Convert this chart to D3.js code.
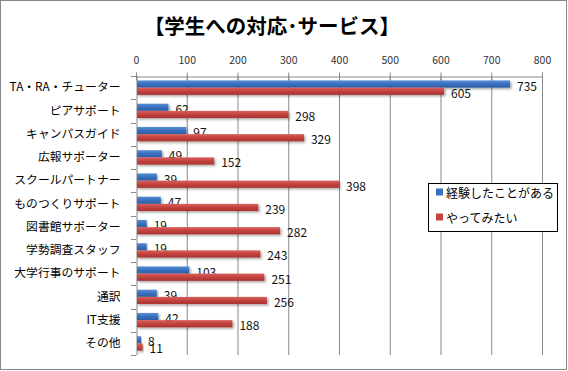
<!DOCTYPE html>
<html><head><meta charset="utf-8">
<script src="https://cdn.jsdelivr.net/npm/d3@7"></script>
<style>body{margin:0;background:#fff}svg{display:block}</style>
</head><body>
<script>
const title = "【学生への対応･サービス】";
const categories = ["TA・RA・チューター","ピアサポート","キャンパスガイド","広報サポーター","スクールパートナー","ものつくりサポート","図書館サポーター","学勢調査スタッフ","大学行事のサポート","通訳","IT支援","その他"];
const experienced = [735,62,97,49,39,47,19,19,103,39,42,8];
const wantToTry = [605,298,329,152,398,239,282,243,251,256,188,11];
const seriesNames = ["経験したことがある","やってみたい"];
const xTicks = [0,100,200,300,400,500,600,700,800];

const W=568,H=371;
const svg=d3.select("body").append("svg").attr("width",W).attr("height",H);
const font="'Noto Sans CJK JP','Noto Sans',sans-serif";
const defs=svg.append("defs");
function grad(id,c1,c2,c3){
  const g=defs.append("linearGradient").attr("id",id).attr("x1",0).attr("y1",0).attr("x2",0).attr("y2",1);
  g.append("stop").attr("offset","0%").attr("stop-color",c1);
  g.append("stop").attr("offset","45%").attr("stop-color",c2);
  g.append("stop").attr("offset","100%").attr("stop-color",c3);
}
grad("gb","#5b8fd6","#3a72c0","#2c5ea6");
grad("gr","#d9605c","#c54440","#a8322f");
const f=defs.append("filter").attr("id","sh").attr("x","-5%").attr("y","-50%").attr("width","115%").attr("height","250%");
f.append("feDropShadow").attr("dx",1.5).attr("dy",1.5).attr("stdDeviation",1).attr("flood-color","#000").attr("flood-opacity",0.35);

svg.append("rect").attr("x",0.5).attr("y",0.5).attr("width",566).attr("height",369).attr("fill","#fff").attr("stroke","#888");

svg.append("text").attr("x",272).attr("y",25).attr("text-anchor","middle").attr("dominant-baseline","central")
  .attr("font-family",font).attr("font-weight","bold").attr("font-size",20.5).attr("fill","#000").text(title);

const x=d3.scaleLinear().domain([0,800]).range([136,542]);
const y=d3.scaleBand().domain(categories).range([76,355]);

// gridlines
svg.append("g").selectAll("line").data(xTicks.slice(1)).join("line")
  .attr("x1",d=>x(d)+0.5).attr("x2",d=>x(d)+0.5).attr("y1",76).attr("y2",355)
  .attr("stroke","#888").attr("stroke-width",1);

// top axis
const ax=svg.append("g").attr("transform","translate(0,76.5)")
  .call(d3.axisTop(x).tickValues(xTicks).tickSize(4).tickPadding(9));
ax.select(".domain").attr("stroke","#888");
ax.selectAll(".tick line").attr("stroke","#888").attr("y2",-4).attr("y1",4);
ax.selectAll("text").attr("font-family",font).attr("font-size",10.5).attr("fill","#333");

// left axis
const ay=svg.append("g").attr("transform","translate(136.5,0)")
  .call(d3.axisLeft(y).tickSize(0).tickPadding(16));
ay.select(".domain").attr("stroke","#888");
ay.selectAll("text").attr("font-family",font).attr("font-size",11.8).attr("fill","#000");
svg.append("g").selectAll("line").data(d3.range(categories.length+1)).join("line")
  .attr("x1",131).attr("x2",136).attr("y1",i=>Math.round(76+i*y.step())+0.5).attr("y2",i=>Math.round(76+i*y.step())+0.5)
  .attr("stroke","#888");

const bh=7.2, off=(y.bandwidth()-2*bh)/2;
const series=[{v:experienced,fill:"url(#gb)",dy:0},{v:wantToTry,fill:"url(#gr)",dy:bh}];
series.forEach(s=>{
  const g=svg.append("g");
  g.selectAll("rect").data(categories).join("rect")
    .attr("x",x(0)+1).attr("y",(c)=>y(c)+off+s.dy)
    .attr("width",(c,i)=>x(s.v[i])-x(0)).attr("height",bh)
    .attr("fill",s.fill).attr("filter","url(#sh)");
  g.selectAll("text").data(categories).join("text")
    .attr("x",(c,i)=>x(s.v[i])+8).attr("y",(c)=>y(c)+off+s.dy+bh/2+1)
    .attr("dominant-baseline","central")
    .attr("font-family",font).attr("font-size",12).attr("fill","#111")
    .text((c,i)=>s.v[i]);
});

// legend
const lg=svg.append("g");
lg.append("rect").attr("x",428.5).attr("y",183.5).attr("width",129).attr("height",48).attr("fill","#fff").attr("stroke","#000");
const lcol=["#3a72c0","#c54440"];
seriesNames.forEach((n,i)=>{
  const cy=192+i*25;
  lg.append("rect").attr("x",436).attr("y",cy-3.5).attr("width",7).attr("height",7).attr("fill",lcol[i]);
  lg.append("text").attr("x",446).attr("y",cy).attr("dominant-baseline","central")
    .attr("font-family",font).attr("font-size",12).attr("fill","#000").text(n);
});
</script>
</body></html>
